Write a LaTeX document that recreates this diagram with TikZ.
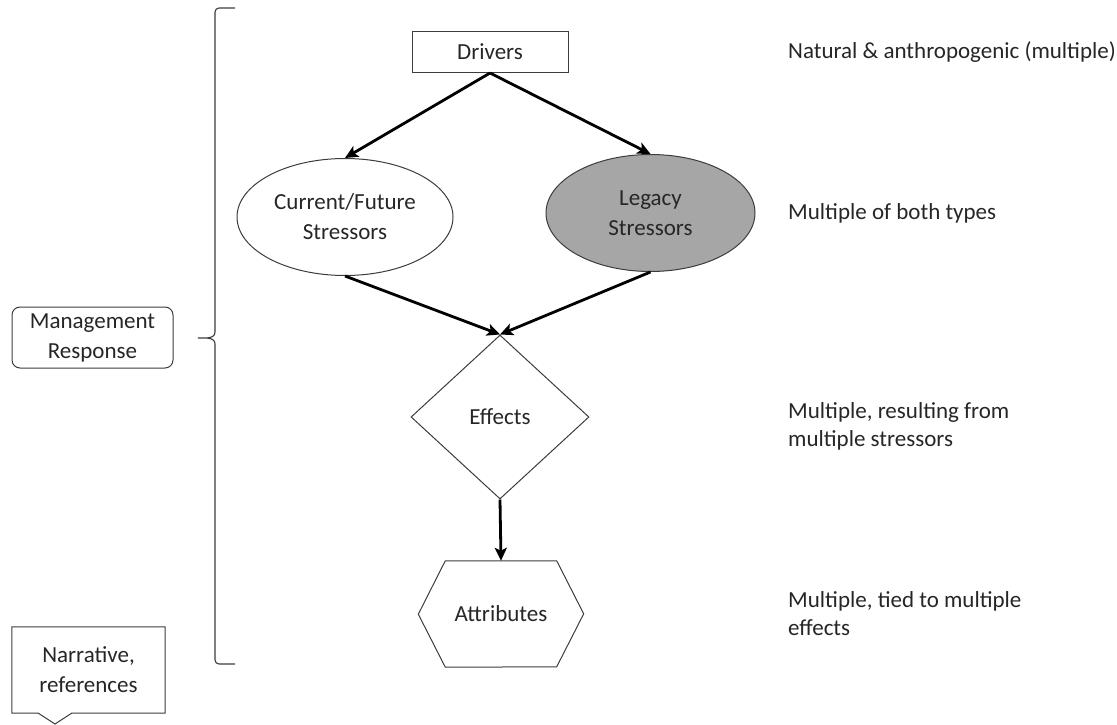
\documentclass[tikz,border=0pt]{standalone}
\usepackage{fontspec}
\setmainfont{Carlito}
\usetikzlibrary{shapes.geometric,arrows.meta}
\definecolor{txt}{RGB}{38,38,38}
\definecolor{legacy}{RGB}{166,166,166}
\definecolor{edge}{RGB}{60,60,60}
\begin{document}
\begin{tikzpicture}[x=1pt,y=-1pt,
  every node/.style={font=\fontsize{23}{30}\selectfont, text=txt, align=center, inner sep=0pt},
  box/.style={draw=edge, line width=1pt},
  flow/.style={line width=2.8pt, -{Stealth[length=13pt,width=12pt,inset=3pt]}},
  side/.style={anchor=west, align=left, font=\fontsize{23}{28}\selectfont},
]
\useasboundingbox (0,0) rectangle (1117,725);
% nodes
\node[box, minimum width=156pt, minimum height=41pt] (drv) at (490,52) {Drivers};
\node[box, ellipse, minimum width=216pt, minimum height=117pt] (cur) at (345,217) {Current/Future\\Stressors};
\node[box, ellipse, fill=legacy, minimum width=209pt, minimum height=117pt] (leg) at (650.5,213) {Legacy\\Stressors};
\node[box, diamond, aspect=1.085, minimum width=178pt, minimum height=164pt] (eff) at (500,417) {Effects};
\node[minimum width=111pt, minimum height=106pt] (att) at (501,614) {Attributes};
\draw[box] (att.north west) -- (att.north east) -- ++(27,53) -- ++(-27,53) -- (att.south west) -- ++(-27,-53) -- cycle;
\node[box, rounded corners=8pt, minimum width=161pt, minimum height=61pt] (mgmt) at (92.5,337.5) {Management\\Response};
\node[minimum width=153pt, minimum height=86pt] (narr) at (88.5,670) {Narrative,\\references};
\coordinate (vl) at (38,713);
\coordinate (vt) at (55,724);
\coordinate (vr) at (72,713);
\draw[box] (narr.north west) -- (narr.north east) -- (narr.south east) -- (vr) -- (vt) -- (vl) -- (narr.south west) -- cycle;
% brace
\coordinate (btop) at (235,8);
\coordinate (bmid) at (198,338);
\coordinate (bbot) at (235,664);
\draw[edge, line width=1.1pt] (btop) -- (219,8) to[out=180,in=90] (215,12) -- (215,332) to[out=-90,in=0] (bmid) to[out=0,in=90] (215,344) -- (215,660) to[out=-90,in=180] (219,664) -- (bbot);
% arrows
\draw[flow] (drv.south) -- (cur.north);
\draw[flow] (drv.south) -- (leg.north);
\draw[flow] (cur.south) -- (eff.north);
\draw[flow] (leg.south) -- (eff.north);
\draw[flow] (eff.south) -- (att.north);
% side labels
\node[side] (l1) at (788,52) {Natural \& anthropogenic (multiple)};
\node[side] (l2) at (788,213) {Multiple of both types};
\node[side] (l3) at (788,426) {Multiple, resulting from\\multiple stressors};
\node[side] (l4) at (788,614) {Multiple, tied to multiple\\effects};
\end{tikzpicture}
\end{document}
